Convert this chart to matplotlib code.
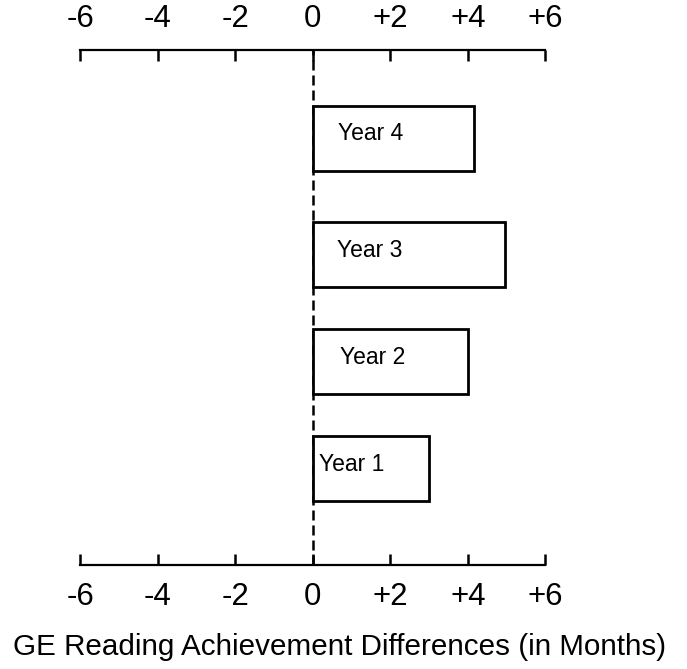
import matplotlib.pyplot as plt

# data
years = ['Year 4', 'Year 3', 'Year 2', 'Year 1']
diffs = [4.15, 4.95, 4.0, 3.0]
ypos = [4, 2.94, 1.97, 1]
tick_vals = [-6, -4, -2, 0, 2, 4, 6]
tick_labels = ['-6', '-4', '-2', '0', '+2', '+4', '+6']
label_offsets = [0.65, 0.62, 0.7, 0.15]

plt.rcParams['font.family'] = ['Liberation Sans', 'DejaVu Sans']

fig = plt.figure(figsize=(6.87, 6.69), dpi=100)
ax = fig.add_axes([0.117, 0.155, 0.677, 0.770])

# bars
ax.barh(ypos, diffs, height=0.59, left=0, color='white',
        edgecolor='black', linewidth=2.0, zorder=3)
for y, name, off in zip(ypos, years, label_offsets):
    ax.text(off, y + 0.04, name, fontsize=16.5, ha='left', va='center', zorder=4)

# dashed zero line
ax.axvline(0, color='black', linewidth=1.8, linestyle=(0, (4, 2)), zorder=2)

ax.set_xlim(-6, 6)
ax.set_ylim(0.12, 4.8)

# only top and bottom axes
for side in ['left', 'right']:
    ax.spines[side].set_visible(False)
for side in ['top', 'bottom']:
    ax.spines[side].set_linewidth(1.6)

ax.set_yticks([])
ax.set_xticks(tick_vals)
ax.set_xticklabels(tick_labels)
ax.tick_params(axis='x', which='both', top=True, bottom=True,
               labeltop=True, labelbottom=True, direction='in',
               length=8, width=1.8, labelsize=22.5, pad=12)

ax.set_xlabel('GE Reading Achievement Differences (in Months)',
              fontsize=21.3, labelpad=15, x=0.557)

fig.savefig('out.png', dpi=100)
